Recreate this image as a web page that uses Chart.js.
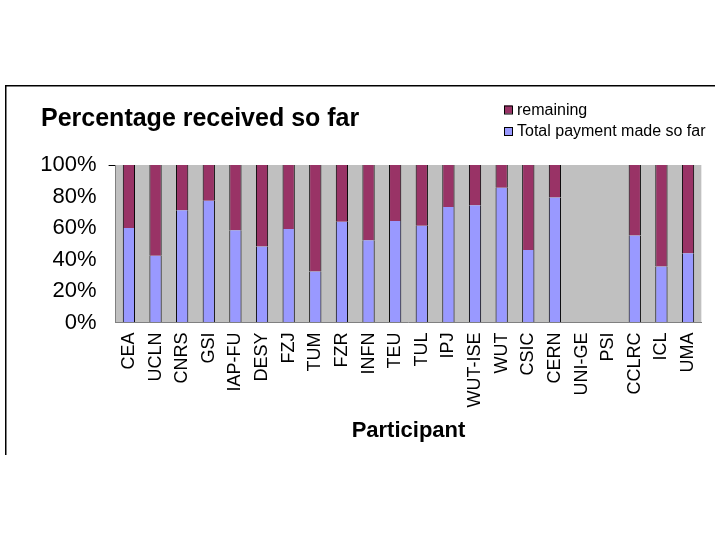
<!DOCTYPE html>
<html>
<head>
<meta charset="utf-8">
<script src="https://cdn.jsdelivr.net/npm/chart.js@4.4.1/dist/chart.umd.min.js"></script>
<style>
html,body{margin:0;padding:0;background:#ffffff;}
#wrap{width:720px;height:540px;position:relative;}
</style>
</head>
<body>
<div id="wrap"><canvas id="c" width="720" height="540"></canvas></div>
<script>
// ---- data ----
const participants = ['CEA','UCLN','CNRS','GSI','IAP-FU','DESY','FZJ','TUM','FZR','INFN','TEU','TUL','IPJ','WUT-ISE','WUT','CSIC','CERN','UNI-GE','PSI','CCLRC','ICL','UMA'];
const paymentPct   = [60.0, 42.4, 71.2, 77.3, 58.5, 48.3, 59.3, 32.4, 64.0, 52.3, 64.4, 61.5, 73.3, 74.4, 85.6, 46.0, 79.4, null, null, 55.3, 35.6, 43.9];
const remainingPct = [40.0, 57.6, 28.8, 22.7, 41.5, 51.7, 40.7, 67.6, 36.0, 47.7, 35.6, 38.5, 26.7, 25.6, 14.4, 54.0, 20.6, null, null, 44.7, 64.4, 56.1];
const yTickLabels = ['0%','20%','40%','60%','80%','100%'];
const seriesNames = ['Total payment made so far','remaining'];
const chartTitle = 'Percentage received so far';
const xAxisTitle = 'Participant';

const FONT = "'Liberation Sans', Arial, sans-serif";
const COL_PAY = '#9999FF';
const COL_REM = '#993366';

const decor = {
  id: 'decor',
  beforeDraw(chart) {
    const ctx = chart.ctx, a = chart.chartArea;
    ctx.save();
    ctx.fillStyle = '#ffffff';
    ctx.fillRect(0, 0, chart.width, chart.height);
    // frame lines
    ctx.fillStyle = '#000000';
    ctx.fillRect(5, 85, 710, 1.5);
    ctx.fillRect(5, 85, 1.5, 370);
    // plot area
    ctx.fillStyle = '#C0C0C0';
    ctx.fillRect(a.left, a.top, a.right - a.left, a.bottom - a.top);
    ctx.restore();
  },
  afterDraw(chart) {
    const ctx = chart.ctx;
    ctx.save();
    ctx.fillStyle = '#000';
    ctx.textBaseline = 'alphabetic';
    ctx.textAlign = 'left';
    ctx.font = "bold 25px " + FONT;
    ctx.fillText(chartTitle, 41, 126);
    // legend (remaining first)
    const ds = chart.data.datasets;
    const order = [1, 0];
    const rows = [109.5, 131];
    ctx.font = "16px " + FONT;
    ctx.textBaseline = 'middle';
    order.forEach((i, r) => {
      const y = rows[r];
      ctx.fillStyle = ds[i].backgroundColor;
      ctx.fillRect(504, y - 4, 8, 8);
      ctx.strokeStyle = '#000';
      ctx.lineWidth = 1;
      ctx.strokeRect(504.5, y - 3.5, 8, 8);
      ctx.fillStyle = '#000';
      ctx.fillText(ds[i].label, 517, y + 1);
    });
    ctx.restore();
  }
};

new Chart(document.getElementById('c'), {
  type: 'bar',
  data: {
    labels: participants,
    datasets: [
      { label: seriesNames[0], data: paymentPct, backgroundColor: COL_PAY,
        borderColor: '#000', borderWidth: {left: 1, right: 1, top: 0, bottom: 0}, borderSkipped: false,
        categoryPercentage: 1, barPercentage: 0.46 },
      { label: seriesNames[1], data: remainingPct, backgroundColor: COL_REM,
        borderColor: '#000', borderWidth: {left: 1, right: 1, top: 0, bottom: 0}, borderSkipped: false,
        categoryPercentage: 1, barPercentage: 0.46 }
    ]
  },
  options: {
    responsive: false,
    animation: false,
    devicePixelRatio: 1,
    layout: { padding: { top: 165, left: 0, right: 15.7, bottom: 95.5 } },
    plugins: { legend: { display: false }, title: { display: false }, tooltip: { enabled: false } },
    scales: {
      x: {
        stacked: true,
        offset: true,
        grid: { display: false, drawTicks: false },
        border: { display: true, color: '#808080', width: 1 },
        ticks: { autoSkip: false, minRotation: 90, maxRotation: 90, padding: 10, color: '#000',
                 font: { family: FONT, size: 18 } },
        title: { display: true, text: xAxisTitle, color: '#000',
                 font: { family: FONT, size: 22, weight: 'bold' }, padding: { top: 0, bottom: 0 } },
        afterFit(s) { s.height = 122; }
      },
      y: {
        stacked: true,
        min: 0, max: 100,
        ticks: { stepSize: 20, padding: 12, color: '#000', font: { family: FONT, size: 22 },
                 callback: (v) => yTickLabels[Math.round(v / 20)] },
        grid: { drawOnChartArea: false, tickLength: 7, lineWidth: 1,
                color: (c) => (c.tick && c.tick.value === 100) ? '#000' : 'rgba(0,0,0,0)' },
        border: { display: true, color: '#808080', width: 1 },
        afterFit(s) { s.width = 115.6; }
      }
    }
  },
  plugins: [decor]
});
</script>
</body>
</html>
